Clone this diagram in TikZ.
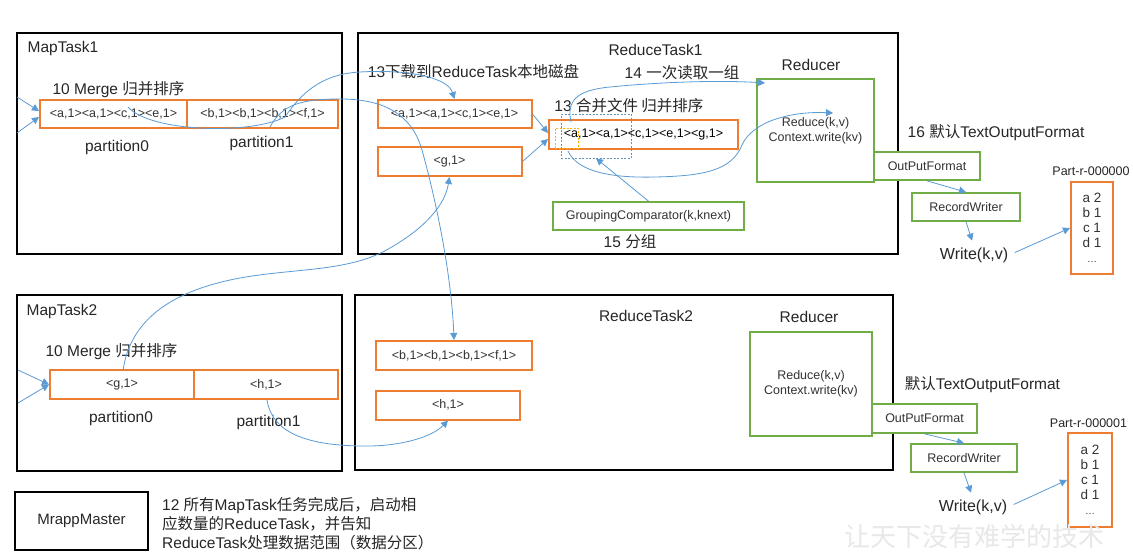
\documentclass[tikz,border=0pt]{standalone}
\usepackage{fontspec}
\setmainfont{Liberation Sans}
\newfontfamily\cjk{Noto Sans CJK SC}
\usetikzlibrary{arrows.meta,calc}
\definecolor{myorange}{HTML}{ED7D31}
\definecolor{mygreen}{HTML}{70AD47}
\definecolor{myblue}{HTML}{5B9BD5}
\definecolor{mytext}{HTML}{262626}
\begin{document}
\begin{tikzpicture}[x=1pt,y=-1pt,
  every node/.style={inner sep=1pt,text=mytext},
  taskbox/.style={draw=black,line width=1.7pt,inner sep=0pt},
  obox/.style={draw=myorange,line width=2pt,fill=white,inner sep=0pt,font=\fontsize{12.5}{15}\selectfont,text=black!80},
  gbox/.style={draw=mygreen,line width=1.7pt,fill=white,inner sep=0pt,font=\fontsize{12.5}{15}\selectfont,text=black!80},
  dashbox/.style={draw=myblue!70!gray,dashed,line width=0.6pt,dash pattern=on 2pt off 1.5pt,inner sep=0pt},
  ybox/.style={draw=orange!60!yellow,dashed,line width=0.8pt,dash pattern=on 2pt off 1.5pt,inner sep=0pt},
  big/.style={font=\fontsize{15.5}{18}\selectfont},
  small/.style={font=\fontsize{12.5}{15}\selectfont},
  wr/.style={font=\fontsize{16}{19}\selectfont},
  conn/.style={draw=myblue,line width=0.8pt,-{Triangle[length=7pt,width=7pt]}}
]
\useasboundingbox (0,0) rectangle (1133,557);
\fill[white] (0,0) rectangle (1133,557);

% ---------- MapTask1 ----------
\node[taskbox,minimum width=325pt,minimum height=221pt] (mt1) at (179.5,143.5) {};
\node[big] (mt1l) at (63,48) {MapTask1};
\node[big] (mg1) at (118.5,90) {10 Merge {\cjk 归并排序}};
\node[obox,minimum width=147pt,minimum height=28pt] (p10) at (113.5,114) {<a,1><a,1><c,1><e,1>};
\node[obox,minimum width=151pt,minimum height=28pt] (p11) at (262.5,114) {<b,1><b,1><b,1><f,1>};
\node[big] (pt10) at (117,147) {partition0};
\node[big] (pt11) at (261.5,143) {partition1};

% ---------- MapTask2 ----------
\node[taskbox,minimum width=325pt,minimum height=176pt] (mt2) at (179.5,383) {};
\node[big] (mt2l) at (62,311) {MapTask2};
\node[big] (mg2) at (111.5,352) {10 Merge {\cjk 归并排序}};
\node[obox,minimum width=144pt,minimum height=29pt] (p20) at (122,384.5) {<g,1>};
\node[obox,minimum width=144pt,minimum height=29pt] (p21) at (266,384.5) {<h,1>};
\node[big] (pt20) at (121,418) {partition0};
\node[big] (pt21) at (268.5,422) {partition1};

% ---------- ReduceTask1 ----------
\node[taskbox,minimum width=540pt,minimum height=221pt] (rt1) at (628,143.5) {};
\node[big] (rt1l) at (655.5,50) {ReduceTask1};
\node[big] (dl) at (473.5,72) {13{\cjk 下载到}ReduceTask{\cjk 本地磁盘}};
\node[obox,minimum width=154pt,minimum height=28pt] (rb1) at (454.5,114) {<a,1><a,1><c,1><e,1>};
\node[obox,minimum width=144pt,minimum height=29pt] (rg1) at (449.5,161.5) {<g,1>};
\node[big] (rd14) at (682,73) {14 {\cjk 一次读取一组}};
\node[big] (hb13) at (629,106) {13 {\cjk 合并文件 归并排序}};
\node[obox,minimum width=189pt,minimum height=29pt,text=black] (mg) at (643.5,134.5) {<a,1><a,1><c,1><e,1><g,1>};
\node[dashbox,minimum width=70pt,minimum height=44pt] (dash) at (596,136) {};
\node[ybox,minimum width=23pt,minimum height=20pt] (ysq) at (566.5,138) {};
\node[gbox,minimum width=191pt,minimum height=28pt] (gc) at (648.5,216) {GroupingComparator(k,knext)};
\node[big] (fz) at (630,242) {15 {\cjk 分组}};
\node[big] (red1l) at (811,65) {Reducer};
\node[gbox,minimum width=117pt,minimum height=103pt,align=center] (red1) at (815.5,130.5) {Reduce(k,v)\\Context.write(kv)};
\node[big] (tof1) at (996,133) {16 {\cjk 默认}TextOutputFormat};
\node[gbox,minimum width=106pt,minimum height=28pt] (of1) at (927,166) {OutPutFormat};
\node[gbox,minimum width=108pt,minimum height=28pt] (rw1) at (966,207) {RecordWriter};
\node[wr] (wr1) at (974,255) {Write(k,v)};
\node[small] (pn1) at (1091,171) {Part-r-000000};
\node[obox,minimum width=42pt,minimum height=92pt,align=center,font=\fontsize{13.5}{15}\selectfont] (pt1) at (1092,228) {a 2\\b 1\\c 1\\d 1\\\fontsize{10}{15}\selectfont …};

% ---------- ReduceTask2 ----------
\node[taskbox,minimum width=538pt,minimum height=175pt] (rt2) at (624,382.5) {};
\node[big] (rt2l) at (646,316) {ReduceTask2};
\node[big] (red2l) at (809,317) {Reducer};
\node[obox,minimum width=156pt,minimum height=29pt] (rb2) at (454,355.5) {<b,1><b,1><b,1><f,1>};
\node[obox,minimum width=144pt,minimum height=29pt] (rh2) at (448,405) {<h,1>};
\node[gbox,minimum width=122pt,minimum height=104pt,align=center] (red2) at (811,384) {Reduce(k,v)\\Context.write(kv)};
\node[big] (tof2) at (982.5,385) {{\cjk 默认}TextOutputFormat};
\node[gbox,minimum width=105pt,minimum height=29pt] (of2) at (924.5,418.5) {OutPutFormat};
\node[gbox,minimum width=106pt,minimum height=28pt] (rw2) at (964,458) {RecordWriter};
\node[wr] (wr2) at (973,507) {Write(k,v)};
\node[small] (pn2) at (1088.5,423) {Part-r-000001};
\node[obox,minimum width=44pt,minimum height=94pt,align=center,font=\fontsize{13.5}{15}\selectfont] (pt2) at (1090,480) {a 2\\b 1\\c 1\\d 1\\\fontsize{10}{15}\selectfont …};

% ---------- bottom ----------
\node[taskbox,minimum width=133pt,minimum height=58pt,font=\fontsize{15}{18}\selectfont] (mam) at (81.5,521) {MrappMaster};
\node[anchor=west,align=left,font=\fontsize{15.5}{19}\selectfont] (note) at (161,524)
  {12 {\cjk 所有}MapTask{\cjk 任务完成后，启动相}\\{\cjk 应数量的}ReduceTask{\cjk ，并告知}\\ReduceTask{\cjk 处理数据范围（数据分区）}};
\node[text=black!9,font=\cjk\fontsize{26}{26}\selectfont] (wm) at (974,537) {让天下没有难学的技术};

% ---------- connectors ----------
\coordinate (in1a) at (17,97);
\coordinate (in1b) at (17,133);
\coordinate (in2a) at (18,370);
\coordinate (in2b) at (18,403);
\draw[conn] (in1a) -- ($(p10.west)+(0,-3)$);
\draw[conn] (in1b) -- ($(p10.west)+(0,3)$);
\draw[conn] (in2a) -- (p20.west);
\draw[conn] (in2b) -- (p20.west);

\coordinate (s1) at (128,107);
\draw[conn] (s1) .. controls (150,132) and (250,135) .. (285,117) .. controls (300,95) and (320,74) .. (360,72) .. controls (410,69) and (448,78) .. (rb1.north);
\coordinate (s2) at (270,127);
\draw[conn] (s2) .. controls (282,105) and (300,99) .. (340,99) .. controls (385,99) and (412,115) .. (422,150) .. controls (440,215) and (452,285) .. (rb2.north);
\coordinate (s3) at (123,371);
\draw[conn] (s3) .. controls (130,318) and (175,290) .. (240,278) .. controls (295,268) and (350,272) .. (390,248) .. controls (425,228) and (445,205) .. (rg1.south);
\coordinate (s4) at (267,400);
\draw[conn] (s4) .. controls (272,432) and (305,445) .. (360,446) .. controls (400,447) and (432,437) .. (rh2.south);

\draw[conn] (rb1.east) -- ($(mg.west)+(0,-1.5)$);
\draw[conn] (rg1.east) -- ($(mg.west)+(0,4.5)$);

\coordinate (s5) at (571,122);
\coordinate (t5) at (765,83);
\draw[conn] (s5) .. controls (566,100) and (578,90) .. (610,87) .. controls (660,82) and (720,80) .. (t5);
\coordinate (s6) at (568,151);
\coordinate (t6) at (833,113);
\draw[conn] (s6) .. controls (578,173) and (615,178) .. (655,177) .. controls (705,176) and (732,170) .. (742,145) .. controls (752,122) and (790,111) .. (t6);
\draw[conn] (gc.north) -- (dash.south);

\draw[conn] (of1.south) -- (rw1.north);
\draw[conn,shorten >=6pt] (rw1.south) -- (wr1.north);
\draw[conn,shorten <=6pt] (wr1.east) -- (pt1.west);
\draw[conn] (of2.south) -- (rw2.north);
\draw[conn,shorten >=6pt] (rw2.south) -- (wr2.north);
\draw[conn,shorten <=6pt] (wr2.east) -- (pt2.west);
\end{tikzpicture}
\end{document}
